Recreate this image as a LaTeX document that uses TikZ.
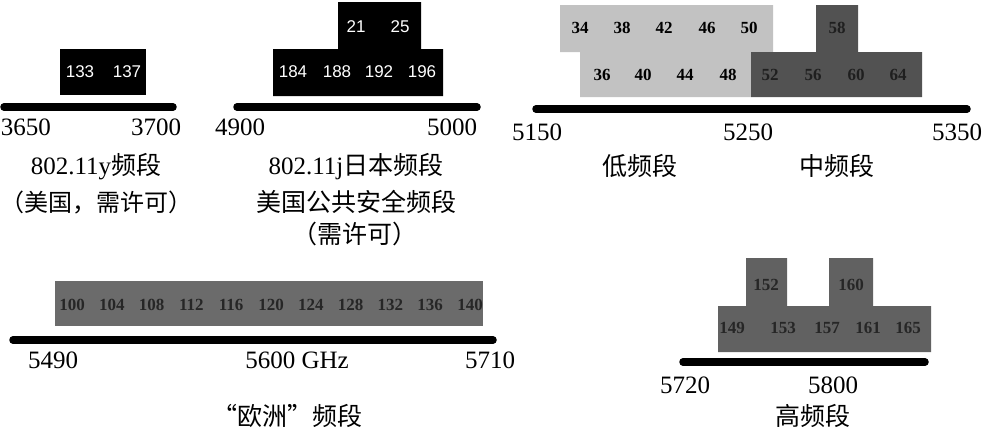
\documentclass[tikz,border=0pt]{standalone}
\usepackage{fontspec}
\setmainfont{Liberation Serif}
\newfontfamily\cjk{Noto Sans CJK SC}
\newfontfamily\numsans{Liberation Sans}
\begin{document}
\begin{tikzpicture}[x=1pt,y=-1pt,
  bar/.style={line width=7.5pt,line cap=round},
  axlab/.style={anchor=base,inner sep=0pt,font=\fontsize{25}{28}\selectfont},
  bandlab/.style={anchor=base,inner sep=0pt,font=\fontsize{25}{28}\selectfont},
  wnum/.style={anchor=base,inner sep=0pt,text=white,font=\numsans\fontsize{17}{20}\selectfont},
  gnum/.style={anchor=base,inner sep=0pt,font=\bfseries\fontsize{17}{20}\selectfont},
  dnum/.style={anchor=base,inner sep=0pt,text=black!85,font=\bfseries\fontsize{17}{20}\selectfont},
]
\useasboundingbox (0,0) rectangle (986,432);
\fill[white] (0,0) rectangle (986,432);

% ---------- panel 1 ----------
\fill[black] (60,49) rectangle (146,95);
\node[wnum] (n133) at (80,77) {133};
\node[wnum] (n137) at (127,77) {137};
\coordinate (b1s) at (4,107); \coordinate (b1e) at (173,107);
\draw[bar] (b1s) -- (b1e);
\node[axlab] (l3650) at (26,135) {3650};
\node[axlab] (l3700) at (156,135) {3700};
\node[bandlab] (t1a) at (96,174) {802.11y{\cjk 频段}};
\node[bandlab,font=\fontsize{24}{28}\selectfont] (t1b) at (97,211) {\cjk （美国，需许可）};

% ---------- panel 2 ----------
\fill[black] (338,2) -- (421,2) -- (421,49) -- (443,49) -- (443,96) -- (273,96) -- (273,49) -- (338,49) -- cycle;
\node[wnum] (n21) at (356,32) {21};
\node[wnum] (n25) at (400,32) {25};
\node[wnum] (n184) at (293,77) {184};
\node[wnum] (n188) at (337,77) {188};
\node[wnum] (n192) at (379,77) {192};
\node[wnum] (n196) at (422,77) {196};
\coordinate (b2s) at (237,107); \coordinate (b2e) at (477,107);
\draw[bar] (b2s) -- (b2e);
\node[axlab] (l4900) at (240,135) {4900};
\node[axlab] (l5000) at (452,135) {5000};
\node[bandlab] (t2a) at (356,174) {802.11j{\cjk 日本频段}};
\node[bandlab] (t2b) at (356,211) {\cjk 美国公共安全频段};
\node[bandlab] (t2c) at (355,243) {\cjk （需许可）};

% ---------- panel 3 ----------
\fill[black!24] (560,5) -- (773,5) -- (773,52) -- (751,52) -- (751,97) -- (580,97) -- (580,52) -- (560,52) -- cycle;
\fill[black!68] (816,5) -- (858,5) -- (858,52) -- (922,52) -- (922,97) -- (751,97) -- (751,52) -- (816,52) -- cycle;
\node[gnum] (n34) at (580,33) {34};
\node[gnum] (n38) at (622,33) {38};
\node[gnum] (n42) at (664,33) {42};
\node[gnum] (n46) at (707,33) {46};
\node[gnum] (n50) at (749,33) {50};
\node[gnum] (n36) at (602,80) {36};
\node[gnum] (n40) at (643,80) {40};
\node[gnum] (n44) at (685,80) {44};
\node[gnum] (n48) at (728,80) {48};
\node[gnum,text=black!88] (n52) at (770,80) {52};
\node[gnum,text=black!88] (n56) at (813,80) {56};
\node[gnum,text=black!88] (n60) at (856,80) {60};
\node[gnum,text=black!88] (n64) at (898,80) {64};
\node[gnum,text=black!88] (n58) at (837,33) {58};
\coordinate (b3s) at (536,109); \coordinate (b3e) at (967,109);
\draw[bar] (b3s) -- (b3e);
\node[axlab] (l5150) at (537,140) {5150};
\node[axlab] (l5250) at (748,140) {5250};
\node[axlab] (l5350) at (957,140) {5350};
\node[bandlab] (t3a) at (640,175) {\cjk 低频段};
\node[bandlab] (t3b) at (837,175) {\cjk 中频段};

% ---------- panel 4 ----------
\fill[black!58] (55,281) rectangle (483,326);
\foreach \v [count=\i from 0] in {100,104,108,112,116,120,124,128,132,136,140}
  \node[dnum] (e\v) at (72+39.8*\i,310) {\v};
\coordinate (b4s) at (13,340); \coordinate (b4e) at (493,340);
\draw[bar] (b4s) -- (b4e);
\node[axlab] (l5490) at (53,368) {5490};
\node[axlab] (l5600) at (297,368) {5600 GHz};
\node[axlab] (l5710) at (490,368) {5710};
\node[bandlab] (t4) at (287,425) {\cjk “欧洲”频段};

% ---------- panel 5 ----------
\fill[black!62] (718,306) -- (746,306) -- (746,258) -- (787,258) -- (787,306) -- (829,306) -- (829,258) -- (873,258) -- (873,306) -- (931,306) -- (931,352) -- (718,352) -- cycle;
\node[dnum] (h152) at (766,290) {152};
\node[dnum] (h160) at (851,290) {160};
\node[dnum] (h149) at (732,333) {149};
\node[dnum] (h153) at (783,333) {153};
\node[dnum] (h157) at (827,333) {157};
\node[dnum] (h161) at (868,333) {161};
\node[dnum] (h165) at (908,333) {165};
\coordinate (b5s) at (683,362); \coordinate (b5e) at (925,362);
\draw[bar] (b5s) -- (b5e);
\node[axlab] (l5720) at (685,393) {5720};
\node[axlab] (l5800) at (833,393) {5800};
\node[bandlab] (t5) at (813,425) {\cjk 高频段};
\end{tikzpicture}
\end{document}
